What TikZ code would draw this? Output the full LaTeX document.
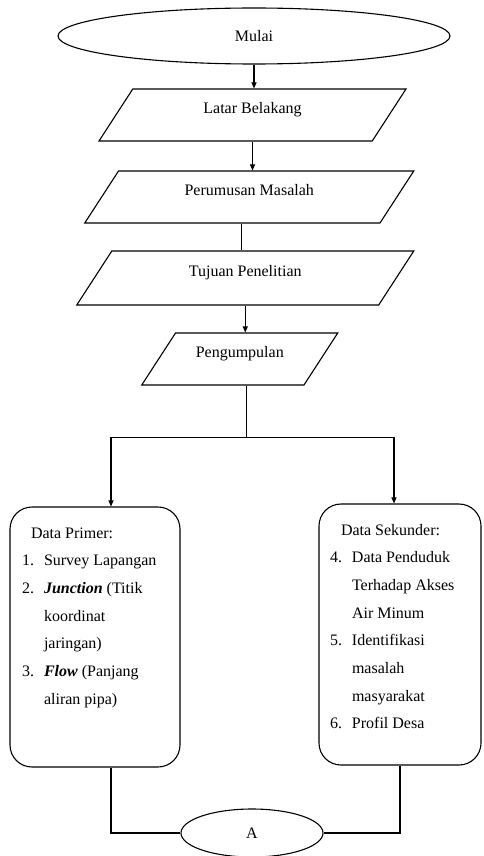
\documentclass[tikz,border=0pt]{standalone}
\usepackage{fontspec}
\setmainfont{Liberation Serif}
\usetikzlibrary{shapes.geometric,arrows.meta,positioning}
\tikzset{
  every node/.style={font=\fontsize{16}{20}\selectfont},
  line/.style={line width=1.1pt},
  arr/.style={line,-{Triangle[length=6pt,width=5pt]}},
  terminal/.style={ellipse,draw,line width=1.1pt},
  io/.style={trapezium,trapezium left angle=57,trapezium right angle=123,
    trapezium stretches body,draw,line width=1.1pt,
    text height=6pt,text depth=9pt,inner ysep=18.5pt},
  databox/.style={rectangle,rounded corners=22pt,draw,line width=1.1pt,inner sep=0pt},
}
\newcommand\itm[2]{\makebox[22pt][l]{#1}#2}
\newcommand\cnt[1]{\hspace*{22pt}#1}

\begin{document}
\begin{tikzpicture}[x=1pt,y=-1pt]
    \useasboundingbox (0,0) rectangle (483,856);

    \path
    (254,36) node[terminal,minimum width=392pt,minimum height=56pt] (mulai) {Mulai}
    (252.5,115) node[io,minimum width=307pt] (latar) {Latar Belakang}
    (249.25,197) node[io,minimum width=329pt] (perumusan) {Perumusan Masalah}
    (245.25,278) node[io,minimum width=337pt,inner ysep=19.5pt] (tujuan) {Tujuan Penelitian}
    (239.75,359) node[io,minimum width=196pt] (kumpul) {Pengumpulan}
    ;

    \node[databox] (primer) at (95,637) {%
      \begin{minipage}[t][260pt][t]{170pt}
        \fontsize{16}{27.7}\selectfont
        \rule{0pt}{31pt}\hspace*{21pt}Data Primer:\\
        \hspace*{12pt}\itm{1.}{Survey Lapangan}\\
        \hspace*{12pt}\itm{2.}{\textbf{\textit{Junction}} (Titik}\\
        \hspace*{12pt}\cnt{koordinat}\\
        \hspace*{12pt}\cnt{jaringan)}\\
        \hspace*{12pt}\itm{3.}{\textbf{\textit{Flow}} (Panjang}\\
        \hspace*{12pt}\cnt{aliran pipa)}
      \end{minipage}};

    \node[databox] (sekunder) at (400,634.5) {%
      \begin{minipage}[t][261pt][t]{162pt}
        \fontsize{16}{27.7}\selectfont
        \rule{0pt}{31pt}\hspace*{22pt}Data Sekunder:\\
        \hspace*{11pt}\itm{4.}{Data Penduduk}\\
        \hspace*{11pt}\cnt{Terhadap Akses}\\
        \hspace*{11pt}\cnt{Air Minum}\\
        \hspace*{11pt}\itm{5.}{Identifikasi}\\
        \hspace*{11pt}\cnt{masalah}\\
        \hspace*{11pt}\cnt{masyarakat}\\
        \hspace*{11pt}\itm{6.}{Profil Desa}
      \end{minipage}};

    \node[terminal,minimum width=142pt,minimum height=48pt] (akhir) at (252,833) {A};

    % alur utama
    \draw[arr] (mulai.south) -- (mulai.south |- latar.north);
    \draw[arr] (latar.south) -- (latar.south |- perumusan.north);
    \draw[line] ([xshift=-8pt]perumusan.south) -- ([xshift=-8pt]perumusan.south |- tujuan.north);
    \draw[arr] (tujuan.south) -- (tujuan.south |- kumpul.north);

    % percabangan data
    \draw[line] ([xshift=7pt]kumpul.south) -- ++(0,52) coordinate (split);
    \draw[arr] (split) -| ([xshift=16pt]primer.north);
    \draw[arr] (split) -| ([xshift=-6pt]sekunder.north);

    \draw[line] ([xshift=16pt]primer.south) |- (akhir.west);
    \draw[line] (sekunder.south) |- (akhir.east);
\end{tikzpicture}
\end{document}
